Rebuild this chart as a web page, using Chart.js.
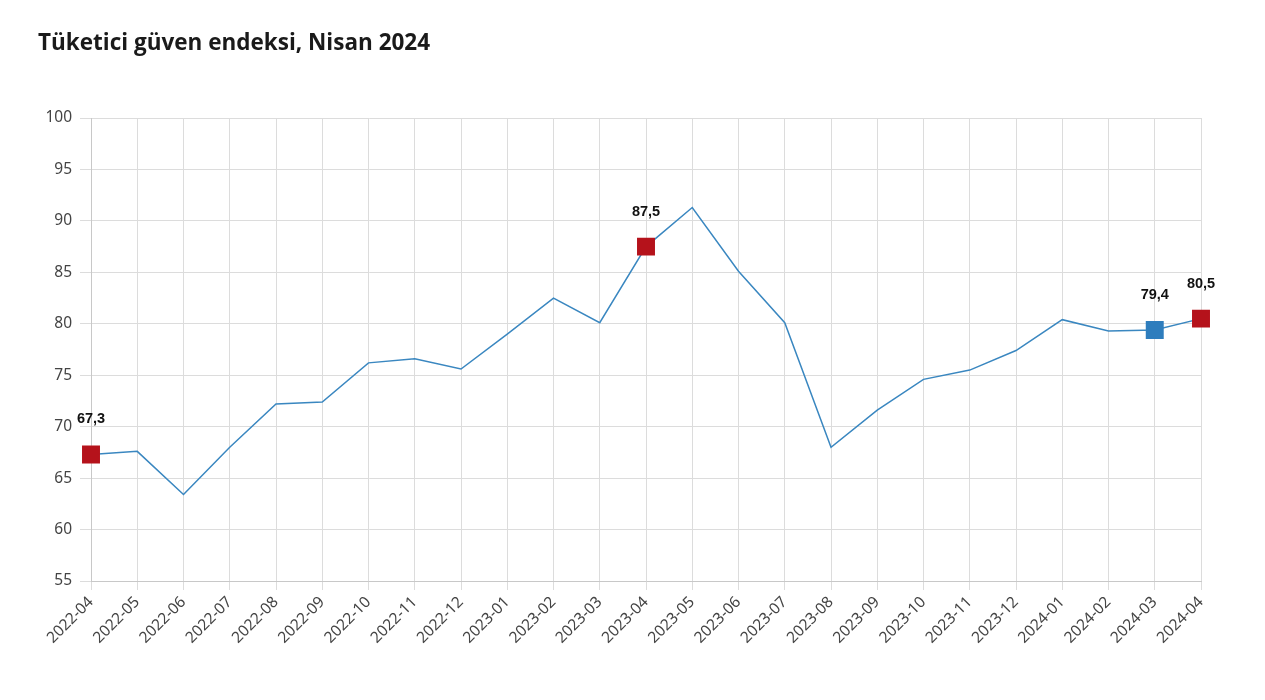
<!DOCTYPE html>
<html lang="tr">
<head>
<meta charset="UTF-8">
<title>Tüketici güven endeksi</title>
<script src="https://cdn.jsdelivr.net/npm/chart.js"></script>
<style>
  html, body { margin: 0; padding: 0; background: #fff; }
  #wrap { width: 1265px; height: 700px; position: relative; }
</style>
</head>
<body>
<div id="wrap"><canvas id="grafik"></canvas></div>
<script>
// aylar ve endeks degerleri
const aylar = ['2022-04','2022-05','2022-06','2022-07','2022-08','2022-09','2022-10','2022-11','2022-12',
  '2023-01','2023-02','2023-03','2023-04','2023-05','2023-06','2023-07','2023-08','2023-09','2023-10',
  '2023-11','2023-12','2024-01','2024-02','2024-03','2024-04'];
const endeks = [67.3, 67.6, 63.4, 68.0, 72.2, 72.4, 76.2, 76.6, 75.6, 79.0, 82.5, 80.1, 87.5, 91.3,
  85.1, 80.1, 68.0, 71.6, 74.6, 75.5, 77.4, 80.4, 79.3, 79.4, 80.5];
// isaretli noktalar (kirmizi / mavi)
const kirmiziAylar = ['2022-04', '2023-04', '2024-04'];
const maviAylar = ['2024-03'];
const yTikler = [55, 60, 65, 70, 75, 80, 85, 90, 95, 100];

function isaretRengi(i) {
  if (maviAylar.includes(aylar[i])) return '#2e7dbd';
  if (kirmiziAylar.includes(aylar[i])) return '#b5121b';
  return null;
}

const baslik = {
  id: 'baslik',
  afterDraw(chart) {
    const c = chart.ctx;
    c.save();
    c.font = 'bold 22.5px "Open Sans", "Noto Sans", sans-serif';
    c.fillStyle = '#1a1a1a';
    c.textBaseline = 'middle';
    c.fillText('Tüketici güven endeksi, Nisan 2024', 38, 44);
    c.restore();
  }
};

// isaretli noktalarin ustune deger yazisi
const etiketler = {
  id: 'etiketler',
  afterDatasetsDraw(chart) {
    const c = chart.ctx;
    const meta = chart.getDatasetMeta(0);
    c.save();
    c.font = 'bold 14.5px "Liberation Sans", Arial, sans-serif';
    c.fillStyle = '#111';
    c.textAlign = 'center';
    c.textBaseline = 'middle';
    meta.data.forEach((p, i) => {
      if (!isaretRengi(i)) return;
      c.fillText(endeks[i].toFixed(1).replace('.', ','), p.x, p.y - 35);
    });
    c.restore();
  }
};

new Chart(document.getElementById('grafik'), {
  type: 'line',
  data: {
    labels: aylar,
    datasets: [{
      data: endeks,
      borderColor: '#3a87c0',
      borderWidth: 1.5,
      tension: 0,
      fill: false,
      pointStyle: 'rect',
      pointRadius: ctx => isaretRengi(ctx.dataIndex) ? 12.7 : 0,
      pointHoverRadius: ctx => isaretRengi(ctx.dataIndex) ? 12.7 : 0,
      pointBackgroundColor: ctx => isaretRengi(ctx.dataIndex) || '#3a87c0',
      pointBorderColor: ctx => isaretRengi(ctx.dataIndex) || '#3a87c0',
      pointBorderWidth: 0
    }]
  },
  options: {
    responsive: true,
    maintainAspectRatio: false,
    animation: false,
    layout: { padding: { top: 118, right: 64, left: 0, bottom: 0 } },
    plugins: {
      legend: { display: false },
      tooltip: { enabled: false }
    },
    scales: {
      x: {
        offset: false,
        afterFit(s) { s.height = 119; },
        grid: { color: '#dcdcdc', tickLength: 9 },
        border: { color: '#c8c8c8' },
        ticks: {
          autoSkip: false,
          maxRotation: 45,
          minRotation: 45,
          color: '#444',
          padding: 3,
          font: { size: 15.5, family: '"Noto Sans", "Open Sans", sans-serif' }
        }
      },
      y: {
        min: 55,
        max: 100,
        afterFit(s) { s.width = 91; },
        afterBuildTicks(s) { s.ticks = yTikler.map(v => ({ value: v })); },
        grid: { color: '#dcdcdc', tickLength: 11 },
        border: { color: '#c8c8c8' },
        ticks: {
          color: '#444',
          padding: 8,
          font: { size: 15.5, family: '"Noto Sans", "Open Sans", sans-serif' }
        }
      }
    }
  },
  plugins: [baslik, etiketler]
});
</script>
</body>
</html>
